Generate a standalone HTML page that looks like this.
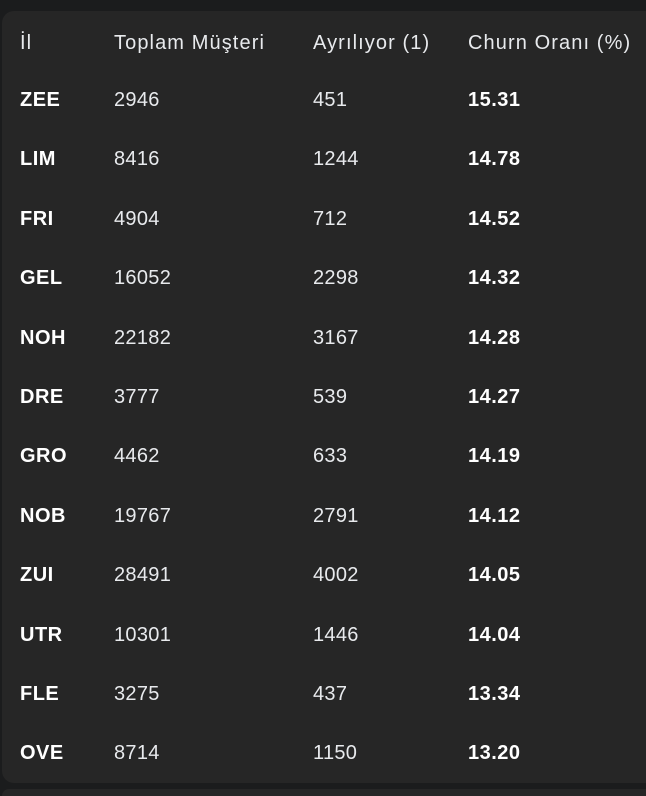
<!DOCTYPE html>
<html><head><meta charset="utf-8"><style>
html,body{margin:0;width:646px;height:796px;overflow:hidden}
body{background:#1b1c1d;font-family:"Liberation Sans",Arial,sans-serif;color:#e8eaed;position:relative}
.card{position:absolute;left:2px;top:11px;width:660px;height:772px;background:#262626;border-radius:12px}
.card2{position:absolute;left:2px;top:789px;width:660px;height:7px;background:#262626;border-radius:12px 12px 0 0}
.row{position:absolute;left:0;height:30px;line-height:30px;font-size:20px;letter-spacing:0.3px;white-space:nowrap}
.row span{position:absolute;top:0}
.c1{left:20px}.c2{left:114px}.c3{left:313px}.c4{left:468px}
.b{font-weight:bold;color:#fff;letter-spacing:0.5px}
.h span{font-size:20px;letter-spacing:1.1px;color:#e8eaed}
</style></head><body>
<div class="card"></div>
<div class="card2"></div>
<div class="row h" style="top:28px">
<span class="c1">İl</span>
<span class="c2">Toplam Müşteri</span>
<span class="c3">Ayrılıyor (1)</span>
<span class="c4">Churn Oranı (%)</span>
</div>
<div id="rows"></div>
<script>
const provinces=["ZEE","LIM","FRI","GEL","NOH","DRE","GRO","NOB","ZUI","UTR","FLE","OVE"];
const totals=[2946,8416,4904,16052,22182,3777,4462,19767,28491,10301,3275,8714];
const churned=[451,1244,712,2298,3167,539,633,2791,4002,1446,437,1150];
const rates=["15.31","14.78","14.52","14.32","14.28","14.27","14.19","14.12","14.05","14.04","13.34","13.20"];
const host=document.getElementById('rows');
provinces.forEach((p,i)=>{
  const r=document.createElement('div');
  r.className='row';
  r.style.top=(85+i*59.4)+'px';
  
  
  const vals=[[p,'c1 b','province'],[totals[i],'c2','total'],[churned[i],'c3','churned'],[rates[i],'c4 b','rate']];
  vals.forEach(v=>{
    const s=document.createElement('span');
    s.className=v[1];s.textContent=v[0];
    
    
    r.appendChild(s);
  });
  host.appendChild(r);
});
</script>
</body></html>
